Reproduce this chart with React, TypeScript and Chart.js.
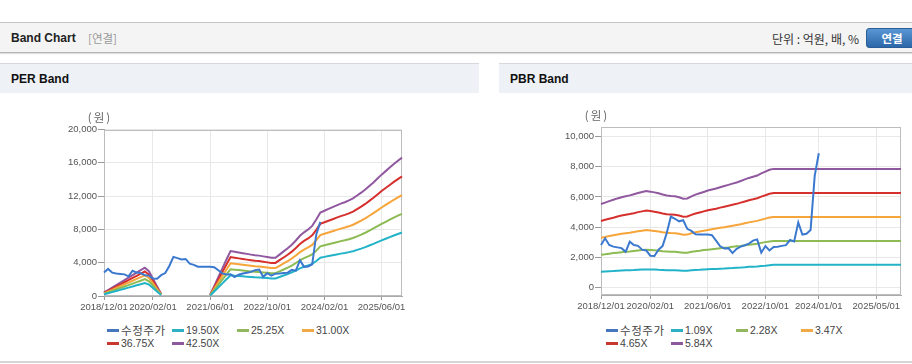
import React, { useEffect, useRef } from 'react';
import { Chart, registerables } from 'chart.js';

Chart.register(...registerables);

// ---- x axis tick labels (index of the monthly point -> date label) ----
const perTickIndex = [0, 12, 26, 40, 54, 68];
const perTickLabels = ['2018/12/01', '2020/02/01', '2021/06/01', '2022/10/01', '2024/02/01', '2025/06/01'];
const pbrTickIndex = [0, 12, 26, 40, 53, 67];
const pbrTickLabels = ['2018/12/01', '2020/02/01', '2021/06/01', '2022/10/01', '2024/01/01', '2025/05/01'];

// ---- y axis ticks ----
const perYTicks = [0, 4000, 8000, 12000, 16000, 20000];
const pbrYTicks = [0, 2000, 4000, 6000, 8000, 10000];

// ---- legend names ----
const perNames = ['수정주가', '19.50X', '25.25X', '31.00X', '36.75X', '42.50X'];
const pbrNames = ['수정주가', '1.09X', '2.28X', '3.47X', '4.65X', '5.84X'];

// ---- adjusted price (수정주가), 74 points ----
const price = [
  2810, 3250, 2810, 2700, 2650, 2600, 2360, 3030, 2810, 2750,
  2500, 2450, 2100, 2080, 2500, 2750, 3600, 4700, 4550, 4380,
  4450, 3880, 3740, 3520, 3500, 3500, 3500, 3460, 3100, 2720,
  2580, 2600, 2270, 2560, 2700, 2790, 2900, 3100, 3180, 2300,
  2740, 2450, 2680, 2700, 2750, 2800, 3140, 3050, 4300, 3500,
  3550, 3800, 7400, 8900, null, null, null, null, null, null,
  null, null, null, null, null, null, null, null, null, null,
  null, null, null, null,
];

// ---- PER bands ----
const per1950 = [
  200, 330, 470, 600, 740, 880, 1010, 1150, 1290, 1420, 1560, 1370, 960, 530, 120,
  null, null, null, null, null, null, null, null, null, null, null,
  60, 550, 1030, 1520, 2010, 2480, 2440, 2400, 2360, 2320, 2280, 2240, 2220, 2180, 2150, 2110,
  2110, 2280, 2460, 2630, 2830, 3060, 3320, 3510, 3670, 3860, 4210, 4600, 4700, 4800, 4900, 4990,
  5090, 5170, 5270, 5380, 5540, 5690, 5870, 6070, 6260, 6470, 6690, 6880, 7080, 7270, 7450, 7620,
];
const per2525 = [
  250, 430, 610, 780, 960, 1140, 1310, 1490, 1670, 1840, 2020, 1770, 1240, 680, 150,
  null, null, null, null, null, null, null, null, null, null, null,
  80, 710, 1340, 1970, 2600, 3210, 3160, 3110, 3060, 3000, 2950, 2900, 2880, 2830, 2780, 2730,
  2730, 2950, 3180, 3410, 3660, 3960, 4290, 4550, 4750, 5000, 5450, 5960, 6090, 6210, 6340, 6460,
  6590, 6690, 6820, 6970, 7170, 7370, 7600, 7850, 8110, 8380, 8660, 8910, 9170, 9420, 9650, 9870,
];
const per3100 = [
  310, 530, 740, 960, 1180, 1400, 1610, 1830, 2050, 2260, 2480, 2170, 1520, 840, 190,
  null, null, null, null, null, null, null, null, null, null, null,
  90, 870, 1640, 2420, 3190, 3940, 3880, 3810, 3750, 3690, 3630, 3570, 3530, 3470, 3410, 3350,
  3350, 3630, 3910, 4190, 4500, 4870, 5270, 5580, 5830, 6140, 6700, 7320, 7470, 7630, 7780, 7940,
  8090, 8220, 8370, 8560, 8800, 9050, 9330, 9640, 9950, 10290, 10630, 10940, 11250, 11560, 11840, 12120,
];
const per3675 = [
  370, 620, 880, 1140, 1400, 1650, 1910, 2170, 2430, 2680, 2940, 2570, 1800, 990, 220,
  null, null, null, null, null, null, null, null, null, null, null,
  110, 1030, 1950, 2870, 3790, 4670, 4590, 4520, 4450, 4370, 4300, 4230, 4190, 4120, 4040, 3970,
  3970, 4300, 4630, 4960, 5330, 5770, 6250, 6620, 6910, 7280, 7940, 8670, 8860, 9040, 9220, 9410,
  9590, 9740, 9920, 10140, 10440, 10730, 11060, 11430, 11800, 12200, 12610, 12970, 13340, 13710, 14040, 14370,
];
const per4250 = [
  430, 720, 1020, 1320, 1620, 1910, 2210, 2510, 2810, 3100, 3400, 2980, 2080, 1150, 260,
  null, null, null, null, null, null, null, null, null, null, null,
  130, 1190, 2250, 3320, 4380, 5400, 5310, 5230, 5140, 5060, 4970, 4890, 4850, 4760, 4680, 4590,
  4590, 4970, 5360, 5740, 6160, 6670, 7230, 7650, 7990, 8420, 9180, 10030, 10240, 10460, 10670, 10880,
  11090, 11260, 11480, 11730, 12070, 12410, 12790, 13220, 13640, 14110, 14580, 15000, 15430, 15850, 16240, 16620,
];

// ---- PBR bands ----
const pbr109 = [
  1030, 1050, 1070, 1080, 1100, 1120, 1130, 1140, 1150, 1170, 1180, 1190, 1180, 1180, 1160, 1150,
  1140, 1130, 1130, 1120, 1100, 1100, 1130, 1150, 1160, 1180, 1200, 1210, 1220, 1240, 1250, 1270,
  1280, 1300, 1310, 1330, 1360, 1370, 1380, 1410, 1430, 1460,
  1490, 1490, 1490, 1490, 1490, 1490, 1490, 1490, 1490, 1490, 1490, 1490, 1490, 1490, 1490, 1490,
  1490, 1490, 1490, 1490, 1490, 1490, 1490, 1490, 1490, 1490, 1490, 1490, 1490, 1490, 1490, 1490,
];
const pbr228 = [
  2160, 2190, 2230, 2270, 2300, 2330, 2360, 2380, 2410, 2440, 2470, 2490, 2480, 2460, 2430, 2400,
  2380, 2360, 2360, 2330, 2290, 2300, 2360, 2400, 2430, 2470, 2500, 2530, 2560, 2590, 2620, 2650,
  2690, 2720, 2750, 2790, 2830, 2860, 2890, 2950, 3000, 3040,
  3070, 3070, 3070, 3070, 3070, 3070, 3070, 3070, 3070, 3070, 3070, 3070, 3070, 3070, 3070, 3070,
  3070, 3070, 3070, 3070, 3070, 3070, 3070, 3070, 3070, 3070, 3070, 3070, 3070, 3070, 3070, 3070,
];
const pbr347 = [
  3290, 3340, 3400, 3450, 3500, 3560, 3590, 3620, 3670, 3720, 3760, 3800, 3770, 3740, 3710, 3660,
  3620, 3600, 3590, 3550, 3490, 3500, 3590, 3650, 3710, 3760, 3810, 3860, 3900, 3950, 3990, 4040,
  4090, 4140, 4190, 4250, 4310, 4360, 4410, 4490, 4560, 4630,
  4670, 4670, 4670, 4670, 4670, 4670, 4670, 4670, 4670, 4670, 4670, 4670, 4670, 4670, 4670, 4670,
  4670, 4670, 4670, 4670, 4670, 4670, 4670, 4670, 4670, 4670, 4670, 4670, 4670, 4670, 4670, 4670,
];
const pbr465 = [
  4400, 4480, 4550, 4620, 4700, 4760, 4810, 4860, 4920, 4990, 5040, 5090, 5060, 5020, 4970, 4900,
  4850, 4830, 4810, 4760, 4680, 4700, 4810, 4900, 4970, 5040, 5110, 5170, 5220, 5290, 5350, 5410,
  5480, 5540, 5620, 5700, 5780, 5840, 5910, 6020, 6110, 6210,
  6260, 6260, 6260, 6260, 6260, 6260, 6260, 6260, 6260, 6260, 6260, 6260, 6260, 6260, 6260, 6260,
  6260, 6260, 6260, 6260, 6260, 6260, 6260, 6260, 6260, 6260, 6260, 6260, 6260, 6260, 6260, 6260,
];
const pbr584 = [
  5530, 5620, 5720, 5810, 5900, 5980, 6040, 6100, 6180, 6260, 6330, 6390, 6350, 6300, 6240, 6160,
  6090, 6060, 6040, 5980, 5880, 5900, 6040, 6150, 6240, 6330, 6420, 6490, 6560, 6640, 6720, 6800,
  6880, 6960, 7060, 7160, 7260, 7340, 7420, 7560, 7680, 7800,
  7860, 7860, 7860, 7860, 7860, 7860, 7860, 7860, 7860, 7860, 7860, 7860, 7860, 7860, 7860, 7860,
  7860, 7860, 7860, 7860, 7860, 7860, 7860, 7860, 7860, 7860, 7860, 7860, 7860, 7860, 7860, 7860,
];

const LINE_COLORS = ['#3b79cf', '#23b3c9', '#8dbb53', '#f6a53b', '#d5302e', '#90589f'];
const LEGEND_COLORS = ['#4676bd', '#2cb0c2', '#93b761', '#efa947', '#c8382f', '#8c5a9c'];

const TICK_FONT = { family: "'Liberation Sans', Arial, sans-serif", size: 9.5 };

type Cfg = {
  series: (number | null)[][];
  names: string[];
  tickIdx: number[];
  tickLabels: string[];
  yTicks: number[];
  yMin: number;
  yMax: number;
  yAxisWidth: number;
  xAxisHeight: number;
  padTop: number;
  padRight: number;
};

const boxPlugin = {
  id: 'plotBox',
  beforeDatasetsDraw(chart: any) {
    const { ctx, chartArea } = chart;
    const l = Math.round(chartArea.left) + 0.5;
    const t = Math.round(chartArea.top) + 0.5;
    const r = Math.round(chartArea.right) - 0.5;
    const b = Math.round(chartArea.bottom) - 0.5;
    ctx.save();
    ctx.strokeStyle = '#bdbdbd';
    ctx.lineWidth = 1;
    ctx.strokeRect(l, t, r - l, b - t);
    ctx.restore();
  },
};

const unitPlugin = {
  id: 'unitLabel',
  afterDraw(chart: any) {
    const { ctx, chartArea } = chart;
    ctx.save();
    ctx.font = "11.5px 'Noto Sans CJK KR', sans-serif";
    ctx.fillStyle = '#666';
    ctx.textAlign = 'center';
    ctx.textBaseline = 'middle';
    try { (ctx as any).letterSpacing = '2px'; } catch (e) { /* ignore */ }
    ctx.fillText('(원)', chartArea.left - 4, chartArea.top - 12);
    ctx.restore();
  },
};

function makeChart(canvas: HTMLCanvasElement, cfg: Cfg) {
  return new Chart(canvas, {
    type: 'line',
    data: {
      labels: cfg.series[0].map((_, i) => String(i)),
      datasets: cfg.series.map((d, k) => ({
        label: cfg.names[k],
        data: d,
        borderColor: LINE_COLORS[k],
        backgroundColor: LINE_COLORS[k],
        borderWidth: 2,
        pointRadius: 0,
        pointHoverRadius: 0,
        tension: 0,
        fill: false,
        spanGaps: false,
      })),
    },
    options: {
      animation: false,
      responsive: false,
      maintainAspectRatio: false,
      events: [],
      layout: { padding: { top: cfg.padTop, right: cfg.padRight, left: 0, bottom: 0 } },
      plugins: { legend: { display: false }, tooltip: { enabled: false } },
      scales: {
        x: {
          type: 'category',
          afterBuildTicks: (ax: any) => {
            ax.ticks = cfg.tickIdx.map((v) => ({ value: v }));
          },
          afterFit: (ax: any) => {
            ax.height = cfg.xAxisHeight;
          },
          ticks: {
            autoSkip: false,
            maxRotation: 0,
            minRotation: 0,
            padding: 2,
            color: '#555',
            font: TICK_FONT,
            callback: (v: any) => {
              const k = cfg.tickIdx.indexOf(Number(v));
              return k >= 0 ? cfg.tickLabels[k] : '';
            },
          },
          grid: { color: '#e8e8e8', tickColor: '#9a9a9a', tickLength: 4 },
          border: { color: '#aaaaaa' },
        },
        y: {
          type: 'linear',
          min: cfg.yMin,
          max: cfg.yMax,
          afterBuildTicks: (ax: any) => {
            ax.ticks = cfg.yTicks.map((v) => ({ value: v }));
          },
          afterFit: (ax: any) => {
            ax.width = cfg.yAxisWidth;
          },
          ticks: {
            padding: 1,
            color: '#555',
            font: TICK_FONT,
            callback: (v: any) => Number(v).toLocaleString('en-US'),
          },
          grid: { color: '#e8e8e8', tickColor: '#9a9a9a', tickLength: 6 },
          border: { color: '#aaaaaa' },
        },
      },
    } as any,
    plugins: [boxPlugin, unitPlugin],
  });
}

const HANGUL = /[\uac00-\ud7a3]/;

function Legend({ left, top, names }: { left: number; top: number; names: string[] }) {
  return (
    <div
      style={{
        position: 'absolute',
        left,
        top,
        display: 'grid',
        gridTemplateColumns: 'repeat(4, 65px)',
        fontFamily: "'Liberation Sans', 'Noto Sans CJK KR', sans-serif",
        fontSize: 10.5,
        color: '#444',
      }}
    >
      {names.map((n, k) => (
        <div key={n} style={{ display: 'flex', alignItems: 'center', height: 13, whiteSpace: 'nowrap' }}>
          <span
            style={{
              display: 'inline-block',
              width: 12,
              height: 2.5,
              background: LEGEND_COLORS[k],
              marginRight: 2,
            }}
          />
          <span
            style={
              HANGUL.test(n)
                ? { lineHeight: '13px', fontSize: 11.5, letterSpacing: '0.6px', fontFamily: "'Noto Sans CJK KR', sans-serif" }
                : { lineHeight: '13px' }
            }
          >
            {n}
          </span>
        </div>
      ))}
    </div>
  );
}

export default function App() {
  const perRef = useRef<HTMLCanvasElement>(null);
  const pbrRef = useRef<HTMLCanvasElement>(null);

  useEffect(() => {
    const perChart = makeChart(perRef.current as HTMLCanvasElement, {
      series: [price, per1950, per2525, per3100, per3675, per4250],
      names: perNames,
      tickIdx: perTickIndex,
      tickLabels: perTickLabels,
      yTicks: perYTicks,
      yMin: 0,
      yMax: 20000,
      yAxisWidth: 64,
      xAxisHeight: 24,
      padTop: 29.5,
      padRight: 10,
    });
    const pbrChart = makeChart(pbrRef.current as HTMLCanvasElement, {
      series: [price, pbr109, pbr228, pbr347, pbr465, pbr584],
      names: pbrNames,
      tickIdx: pbrTickIndex,
      tickLabels: pbrTickLabels,
      yTicks: pbrYTicks,
      yMin: -510,
      yMax: 10620,
      yAxisWidth: 61,
      xAxisHeight: 25,
      padTop: 27.3,
      padRight: 11,
    });
    return () => {
      perChart.destroy();
      pbrChart.destroy();
    };
  }, []);

  const headerFont = "'Liberation Sans', 'Noto Sans CJK KR', sans-serif";

  return (
    <div
      style={{
        position: 'relative',
        width: 912,
        height: 364,
        background: '#fff',
        overflow: 'hidden',
        fontFamily: headerFont,
      }}
    >
      <style>{'body{margin:0;background:#fff}'}</style>

      {/* top bar */}
      <div
        style={{
          position: 'absolute',
          left: 0,
          top: 22,
          width: 912,
          height: 29,
          background: '#f4f4f4',
          borderTop: '1px solid #c4c4c4',
          borderBottom: '1px solid #b4b4b4',
          boxShadow: '0 1px 1px rgba(0,0,0,0.12)',
        }}
      >
        <span style={{ position: 'absolute', left: 11, top: 1, lineHeight: '29px', fontSize: 12, fontWeight: 'bold', color: '#222' }}>
          Band Chart
        </span>
        <span style={{ position: 'absolute', left: 88, top: 1, lineHeight: '29px', fontSize: 11.5, color: '#999', fontFamily: "'Noto Sans CJK KR', sans-serif" }}>
          [연결]
        </span>
        <span style={{ position: 'absolute', right: 53, top: 1, lineHeight: '29px', fontSize: 12, color: '#333', fontFamily: "'Noto Sans CJK KR', sans-serif" }}>
          단위 : 억원, 배, %
        </span>
        <div
          style={{
            position: 'absolute',
            left: 866,
            top: 5,
            width: 50,
            height: 18,
            borderRadius: 3,
            background: 'linear-gradient(#5a95d4, #2c68a9)',
            border: '1px solid #2a5d95',
            color: '#fff',
            fontWeight: 'bold',
            fontSize: 11.5,
            textAlign: 'center',
            lineHeight: '18px',
            fontFamily: "'Noto Sans CJK KR', sans-serif",
          }}
        >
          연결
        </div>
      </div>

      {/* panel headers */}
      <div
        style={{
          position: 'absolute',
          left: 0,
          top: 63,
          width: 479,
          height: 29,
          background: '#eef2f6',
          borderTop: '1px solid #d5d9de',
        }}
      >
        <span style={{ position: 'absolute', left: 11, top: 1, lineHeight: '29px', fontSize: 12, fontWeight: 'bold', color: '#111' }}>
          PER Band
        </span>
      </div>
      <div
        style={{
          position: 'absolute',
          left: 499,
          top: 63,
          width: 413,
          height: 29,
          background: '#eef2f6',
          borderTop: '1px solid #d5d9de',
        }}
      >
        <span style={{ position: 'absolute', left: 11, top: 1, lineHeight: '29px', fontSize: 12, fontWeight: 'bold', color: '#111' }}>
          PBR Band
        </span>
      </div>

      {/* charts */}
      <canvas
        ref={perRef}
        width={372}
        height={220}
        style={{ position: 'absolute', left: 40, top: 100, width: 372, height: 220 }}
      />
      <canvas
        ref={pbrRef}
        width={372}
        height={220}
        style={{ position: 'absolute', left: 540, top: 100, width: 372, height: 220 }}
      />

      <Legend left={107} top={324} names={perNames} />
      <Legend left={606} top={324} names={pbrNames} />

      {/* bottom line */}
      <div style={{ position: 'absolute', left: 0, top: 361, width: 912, height: 2, background: '#d6d6d6' }} />
    </div>
  );
}
